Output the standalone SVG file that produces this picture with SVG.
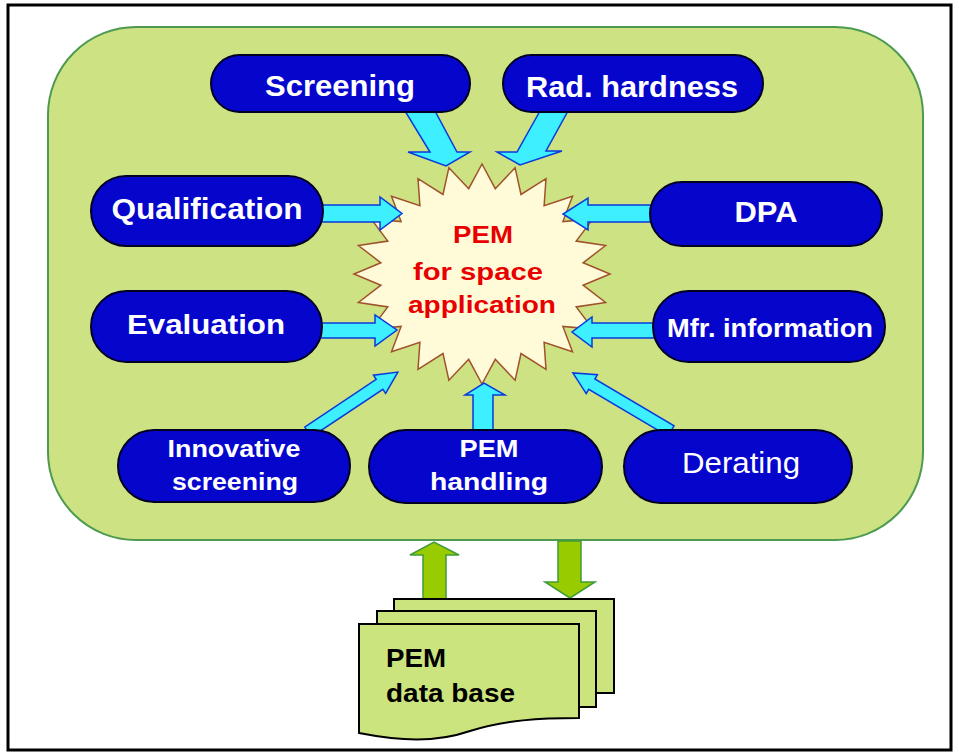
<svg xmlns="http://www.w3.org/2000/svg" width="959" height="756" viewBox="0 0 959 756">
<style>
.pill{fill:#0505CC;stroke:#000022;stroke-width:2}
.pt{fill:#ffffff;font-family:"Liberation Sans",Arial,sans-serif;font-weight:bold;text-anchor:middle}
.arr{fill:#3DEFFF;stroke:#0A3ADC;stroke-width:1.5;stroke-linejoin:miter}
.garr{fill:#99CC00;stroke:#3F9A3A;stroke-width:1.5}
.doc{fill:#CCE47E;stroke:#000000;stroke-width:2}
.st{fill:#E80000;font-family:"Liberation Sans",Arial,sans-serif;font-weight:bold;text-anchor:middle;font-size:24px}
.dt{fill:#000000;font-family:"Liberation Sans",Arial,sans-serif;font-weight:bold;font-size:25px}
</style>
<rect x="0" y="0" width="959" height="756" fill="#ffffff"/>
<rect x="8" y="5" width="943" height="745" fill="#ffffff" stroke="#000000" stroke-width="3"/>
<rect id="panel" x="48" y="27" width="875" height="513" rx="88" ry="88" fill="#CDE283" stroke="#4E9A50" stroke-width="2"/>

<g id="center">
<polygon points="610,274 583.1,285.2 605.6,302.5 576.2,306.9 592.9,329 562.9,326.4 572.5,351.8 544.1,342.2 546,369.3 521,353.5 515.1,380.3 495.3,359.3 482,384 468.7,359.3 448.9,380.3 443,353.5 418,369.3 419.9,342.2 391.5,351.8 401.1,326.4 371.1,329 387.8,306.9 358.4,302.5 380.9,285.2 354,274 380.9,262.8 358.4,245.5 387.8,241.1 371.1,219 401.1,221.6 391.5,196.2 419.9,205.8 418,178.7 443,194.5 448.9,167.7 468.7,188.7 482,164 495.3,188.7 515.1,167.7 521,194.5 546,178.7 544.1,205.8 572.5,196.2 562.9,221.6 592.9,219 576.2,241.1 605.6,245.5 583.1,262.8" fill="#FFFBD8" stroke="#A0522D" stroke-width="1.5"/>
<text class="st" x="483" y="243" textLength="60" lengthAdjust="spacingAndGlyphs">PEM</text>
<text class="st" x="478" y="280" textLength="130" lengthAdjust="spacingAndGlyphs">for space</text>
<text class="st" x="482" y="313" textLength="148" lengthAdjust="spacingAndGlyphs">application</text>
</g>

<g id="connectors">
<polygon class="arr" points="405,111 435,111 457,152 470,152 446,166 408,152 430,152"/>
<polygon class="arr" points="540,111 568,111 546,151 562,151 520,165 497,152 517,152"/>
<polygon class="arr" points="322,205 380,205 380,197 402,213.5 380,230 380,222 322,222"/>
<polygon class="arr" points="651,205 588,205 588,198 563,214 588,230 588,222 651,222"/>
<polygon class="arr" points="321,323 375,323 375,315 397,330 375,346 375,338 321,338"/>
<polygon class="arr" points="654,323 592,323 592,317 572,332 592,347 592,338 654,338"/>
<polygon class="arr" points="473,431 473,395 465,395 484,383 505,395 493,395 493,431"/>
<polygon class="arr" points="0,-6 86,-6 86,-11 108,0 86,11 86,6 0,6" transform="translate(308,432) rotate(-33.7)"/>
<polygon class="arr" points="0,-6 92,-6 92,-11 114,0 92,11 92,6 0,6" transform="translate(671,431) rotate(-149.4)"/>
<polygon class="garr" points="423,600 423,555 410,555 434,542 459,555 446,555 446,600"/>
<polygon class="garr" points="558,541 558,582 545,582 570,598 595,582 581,582 581,541"/>
</g>

<g id="screening">
<rect class="pill" x="211" y="55" width="259" height="57" rx="28.5"/>
<text class="pt" x="340" y="96" font-size="29" textLength="150" lengthAdjust="spacingAndGlyphs">Screening</text>
</g>
<g id="rad-hardness">
<rect class="pill" x="503" y="55" width="260" height="57" rx="28.5"/>
<text class="pt" x="632" y="97" font-size="29" textLength="212" lengthAdjust="spacingAndGlyphs">Rad. hardness</text>
</g>
<g id="qualification">
<rect class="pill" x="91" y="176" width="232" height="70" rx="35"/>
<text class="pt" x="207" y="219" font-size="29" textLength="191" lengthAdjust="spacingAndGlyphs">Qualification</text>
</g>
<g id="dpa">
<rect class="pill" x="650" y="182" width="232" height="64" rx="32"/>
<text class="pt" x="766" y="222" font-size="29" textLength="63" lengthAdjust="spacingAndGlyphs">DPA</text>
</g>
<g id="evaluation">
<rect class="pill" x="91" y="291" width="231" height="71" rx="35.5"/>
<text class="pt" x="206" y="334" font-size="28" textLength="158" lengthAdjust="spacingAndGlyphs">Evaluation</text>
</g>
<g id="mfr-information">
<rect class="pill" x="653" y="291" width="232" height="71" rx="35.5"/>
<text class="pt" x="770" y="337" font-size="26" textLength="206" lengthAdjust="spacingAndGlyphs">Mfr. information</text>
</g>
<g id="innovative-screening">
<rect class="pill" x="118" y="430" width="232" height="72" rx="36"/>
<text class="pt" x="234" y="457" font-size="24" textLength="133" lengthAdjust="spacingAndGlyphs">Innovative</text>
<text class="pt" x="235" y="490" font-size="24" textLength="126" lengthAdjust="spacingAndGlyphs">screening</text>
</g>
<g id="pem-handling">
<rect class="pill" x="369" y="430" width="233" height="73" rx="36.5"/>
<text class="pt" x="489" y="457" font-size="24" textLength="59" lengthAdjust="spacingAndGlyphs">PEM</text>
<text class="pt" x="489" y="490" font-size="24" textLength="118" lengthAdjust="spacingAndGlyphs">handling</text>
</g>
<g id="derating">
<rect class="pill" x="624" y="430" width="228" height="73" rx="36.5"/>
<text class="pt" x="741" y="473" font-size="29" font-weight="normal" style="font-weight:normal" textLength="118" lengthAdjust="spacingAndGlyphs">Derating</text>
</g>

<g id="database">
<rect class="doc" x="394" y="599" width="220" height="94"/>
<rect class="doc" x="377" y="611" width="219" height="96"/>
<path class="doc" d="M359,624 H579 V718 C540,718 505,720 470,731 C435,743 400,741 359,733 Z"/>
<text class="dt" x="386" y="667" textLength="60" lengthAdjust="spacingAndGlyphs">PEM</text>
<text class="dt" x="386" y="702" textLength="129" lengthAdjust="spacingAndGlyphs">data base</text>
</g>
</svg>
